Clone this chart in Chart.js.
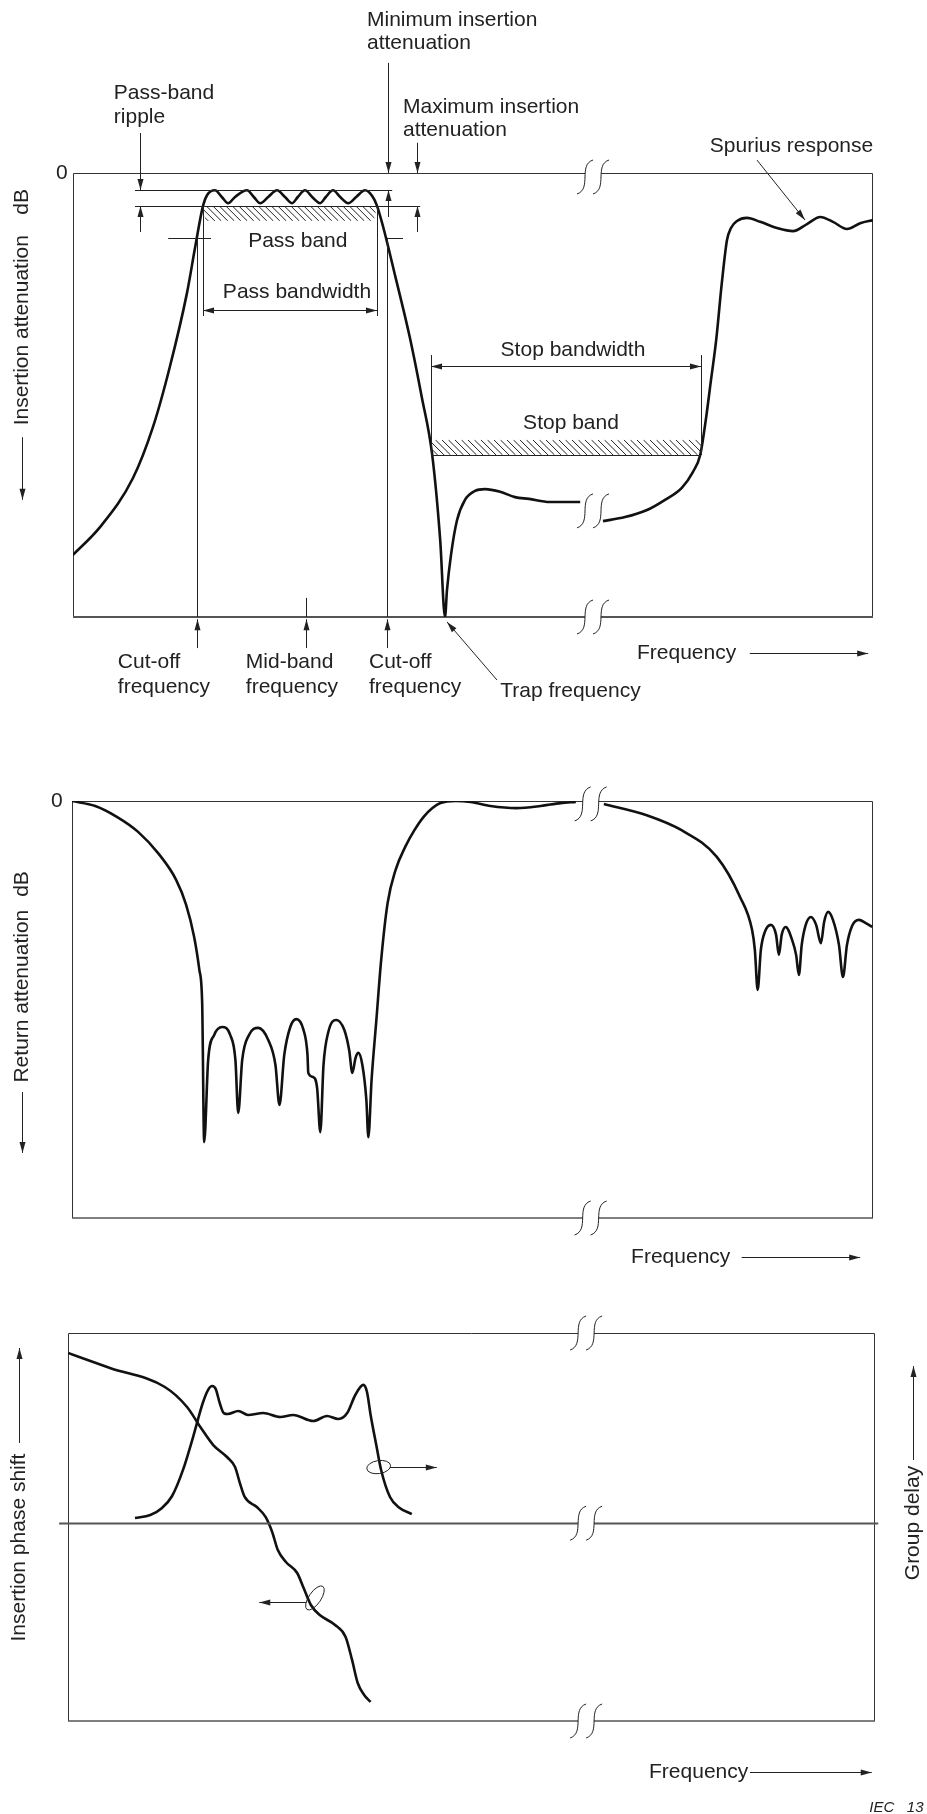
<!DOCTYPE html>
<html>
<head>
<meta charset="utf-8">
<script src="https://cdn.jsdelivr.net/npm/chart.js@4.4.1/dist/chart.umd.min.js"></script>
<style>
  body { margin: 0; background: #fff; }
  #wrap { position: relative; width: 927px; height: 1814px; }
  canvas { position: absolute; left: 0; }
</style>
</head>
<body>
<div id="wrap">
  <canvas id="plot1" width="927" height="760" style="top:0"></canvas>
  <canvas id="plot2" width="927" height="540" style="top:760px"></canvas>
  <canvas id="plot3" width="927" height="514" style="top:1300px"></canvas>
</div>
<script>
// Insertion attenuation (relative frequency 0-100, attenuation 0 at top, 100 at bottom)
const freqIns1 = [0, 3.4, 7.5, 10, 12.1, 14.25, 15.25, 16.25, 16.75, 17.75, 18.6, 19.4, 20.25, 21.75, 22.6, 23.4, 24.4, 25.5, 26.5, 27.4, 28.1, 29, 29.9, 30.9, 31.6, 32.5, 33.4, 34.4, 35.4, 36.5, 37.4, 38, 38.75, 40.25, 42.1, 43.6, 44.9, 45.9, 46.5, 46.75, 47.25, 48, 49, 50.25, 51.5, 53.4, 55.25, 57, 59.6, 63.4];
const attIns1  = [86.0, 79.7, 68.7, 57.2, 43.7, 27.0, 16.9, 7.4, 5.0, 3.9, 5.4, 6.8, 5.4, 3.9, 5.4, 6.8, 5.4, 3.9, 5.4, 6.8, 5.4, 3.9, 5.4, 6.8, 5.4, 3.9, 5.4, 6.8, 5.4, 3.9, 5.2, 7.4, 12.0, 23.0, 37.0, 50.5, 63.5, 82.7, 100, 93.9, 86.0, 78.2, 73.6, 71.6, 71.2, 71.8, 73.0, 73.4, 74.1, 74.1];
const freqIns2 = [66.25, 69, 71.75, 74, 76.1, 77.5, 78.4, 79.1, 79.75, 80.4, 81.1, 81.75, 82.25, 83, 84.25, 85.9, 88, 90, 91.75, 93.4, 95, 96.75, 98.4, 100];
const attIns2  = [78.4, 77.5, 75.9, 73.6, 70.9, 67.3, 63.5, 55.6, 46.6, 37.6, 24.8, 15.1, 12.4, 10.8, 10.1, 11.0, 12.4, 13.1, 11.5, 9.9, 11.0, 12.6, 11.3, 10.6];

// Return attenuation
const freqRet1 = [0, 2.9, 5.6, 8.25, 10.75, 13, 14.25, 15.25, 15.9, 16.25, 16.5, 17, 17.75, 18.75, 19.75, 20.4, 20.75, 21.25, 22.1, 23.25, 24.5, 25.4, 25.9, 26.5, 27.25, 28, 28.9, 29.4, 29.5, 30.1, 30.6, 31, 31.4, 32, 33, 34, 34.6, 35, 35.4, 35.75, 36.25, 36.75, 37, 37.4, 38, 38.6, 39.4, 40.4, 41.6, 42.75, 43.9, 45, 46, 47.9, 49.75, 52.25, 55.5, 58.5, 61, 62.9];
const attRet1  = [0, 1.2, 3.8, 7.4, 12.5, 18.9, 24.9, 32.6, 40.5, 48.4, 81.8, 62.1, 56.1, 54.2, 56.1, 62.1, 74.8, 62.1, 56.1, 54.4, 57.3, 63.3, 72.9, 60.9, 54.2, 52.3, 54.9, 60.9, 65.2, 66.2, 68.8, 79.4, 63.3, 55.4, 52.5, 54.9, 59.7, 65.2, 61.6, 60.4, 63.3, 71.7, 80.6, 66.9, 52.5, 38.1, 24.5, 16.5, 11.0, 7.0, 3.8, 1.7, 0.5, 0, 0.24, 1.2, 1.7, 1.2, 0.5, 0.24];
const freqRet2 = [66.4, 71.75, 76.1, 80.5, 83.4, 84.9, 85.25, 85.6, 86, 86.5, 87.25, 87.9, 88.25, 88.6, 89.1, 89.9, 90.4, 90.75, 91.1, 91.6, 92.25, 92.9, 93.5, 93.9, 94.4, 95, 95.75, 96.25, 96.75, 97.4, 98.25, 99.1, 99.9];
const attRet2  = [0.7, 3.4, 7.0, 13.4, 23.0, 30.9, 35.7, 45.3, 35.7, 31.4, 29.7, 32.1, 36.9, 32.1, 30.2, 33.3, 36.9, 41.7, 34.5, 29.7, 27.8, 29.7, 34.1, 29.0, 26.6, 28.5, 34.5, 42.2, 34.5, 29.9, 28.5, 29.3, 30.2];

// Insertion phase shift and group delay (0 on the middle axis)
const freqPhase  = [0, 5.2, 12.0, 14.75, 16.4, 18.0, 19.7, 20.7, 21.3, 21.9, 23.4, 24.5, 25.3, 26.0, 27.0, 28.4, 29.2, 30.1, 31.2, 33.1, 34.4, 35.2, 35.9, 36.7, 37.5];
const phaseShift = [89.5, 81.6, 71.6, 61.1, 50.6, 41.1, 34.8, 29.5, 21.1, 13.8, 8.5, 3.2, -4.6, -14.1, -20.4, -26.2, -34.1, -43.0, -48.3, -53.5, -59.8, -71.9, -84.0, -90.3, -94.0];
const freqDelay  = [8.3, 10.2, 11.65, 12.9, 14.25, 15.5, 16.7, 17.35, 17.85, 18.3, 18.8, 19.3, 19.8, 21.1, 22.3, 24.2, 26.3, 27.9, 30.4, 32.1, 33.5, 34.6, 35.6, 36.6, 37.05, 37.5, 38.2, 38.8, 39.9, 41.1, 42.6];
const groupDelay = [2.7, 4.3, 8.0, 14.3, 28.0, 45.3, 63.2, 70.0, 72.1, 70.6, 63.2, 57.9, 57.4, 59.0, 56.9, 57.9, 55.8, 56.9, 53.7, 56.4, 54.8, 57.9, 67.4, 72.7, 69.0, 56.9, 41.1, 28.0, 13.8, 8.0, 4.8];

const FONT = '21px "Liberation Sans", Arial, sans-serif';
const INK = '#222';

let toPoints = (xs, ys) => xs.map((x, i) => ({x: x, y: ys[i]}));

let curve = (xs, ys) => ({
  data: toPoints(xs, ys),
  borderColor: '#111',
  borderWidth: 2.6,
  pointRadius: 0,
  fill: false,
  cubicInterpolationMode: 'monotone'
});

let arrowHead = (ctx, x1, y1, x2, y2) => {
  let a = Math.atan2(y2 - y1, x2 - x1), L = 11, W = 3;
  ctx.beginPath();
  ctx.moveTo(x2, y2);
  ctx.lineTo(x2 - L * Math.cos(a) + W * Math.sin(a), y2 - L * Math.sin(a) - W * Math.cos(a));
  ctx.lineTo(x2 - L * Math.cos(a) - W * Math.sin(a), y2 - L * Math.sin(a) + W * Math.cos(a));
  ctx.closePath();
  ctx.fill();
};

// two slanted S strokes, white between them
let breakMark = (ctx, cx, cy) => {
  let s = (x0) => [x0, cy + 17, x0 + 15, cy + 12, x0 + 1, cy - 12, x0 + 16, cy - 17];
  let a = s(cx - 16), b = s(cx);
  ctx.beginPath();
  ctx.moveTo(a[0], a[1]);
  ctx.bezierCurveTo(a[2], a[3], a[4], a[5], a[6], a[7]);
  ctx.lineTo(b[6], b[7]);
  ctx.bezierCurveTo(b[4], b[5], b[2], b[3], b[0], b[1]);
  ctx.closePath();
  ctx.fillStyle = '#fff';
  ctx.fill();
  for (let p of [a, b]) {
    ctx.beginPath();
    ctx.moveTo(p[0], p[1]);
    ctx.bezierCurveTo(p[2], p[3], p[4], p[5], p[6], p[7]);
    ctx.stroke();
  }
  ctx.fillStyle = INK;
};

const sketchPlugin = {
  id: 'sketch',
  beforeDatasetsDraw(chart, args, opts) {
    let {ctx, chartArea: a} = chart;
    ctx.save();
    ctx.strokeStyle = '#333';
    ctx.lineWidth = 1;
    ctx.beginPath();
    ctx.moveTo(a.left + 0.5, a.bottom);
    ctx.lineTo(a.left + 0.5, a.top + 0.5);
    ctx.lineTo(a.right - 0.5, a.top + 0.5);
    ctx.lineTo(a.right - 0.5, a.bottom);
    ctx.stroke();
    ctx.strokeStyle = '#555';
    ctx.lineWidth = opts.bottomWidth || 1;
    ctx.beginPath();
    ctx.moveTo(a.left, a.bottom);
    ctx.lineTo(a.right, a.bottom);
    ctx.stroke();
    ctx.restore();
  },
  afterDatasetsDraw(chart, args, opts) {
    let ctx = chart.ctx;
    let X = (v) => chart.scales.x.getPixelForValue(v);
    let Y = (v) => chart.scales.y.getPixelForValue(v);
    ctx.save();
    ctx.strokeStyle = INK;
    ctx.fillStyle = INK;
    ctx.lineWidth = 1;
    ctx.font = FONT;
    ctx.textBaseline = 'middle';
    for (let it of (opts.items || [])) {
      let k = it[0];
      if (k === 'line' || k === 'arrow' || k === 'arrow2') {
        let x1 = X(it[1]), y1 = Y(it[2]), x2 = X(it[3]), y2 = Y(it[4]);
        if (x1 === x2) { x1 = x2 = Math.round(x1) + 0.5; }
        if (y1 === y2) { y1 = y2 = Math.round(y1) + 0.5; }
        ctx.save();
        if (it[5]) ctx.lineWidth = it[5];
        if (it[6]) ctx.strokeStyle = it[6];
        ctx.beginPath();
        ctx.moveTo(x1, y1);
        ctx.lineTo(x2, y2);
        ctx.stroke();
        ctx.restore();
        if (k !== 'line') arrowHead(ctx, x1, y1, x2, y2);
        if (k === 'arrow2') arrowHead(ctx, x2, y2, x1, y1);
      } else if (k === 'text') {
        ctx.save();
        if (it[5]) ctx.font = it[5];
        ctx.textAlign = it[4] || 'left';
        ctx.fillText(it[3], X(it[1]), Y(it[2]));
        ctx.restore();
      } else if (k === 'vtext') {
        ctx.save();
        ctx.translate(X(it[1]), Y(it[2]));
        ctx.rotate(-Math.PI / 2);
        ctx.textAlign = 'center';
        ctx.fillText(it[3], 0, 0);
        ctx.restore();
      } else if (k === 'hatch') {
        let pts = it[1].map(p => [X(p[0]), Y(p[1])]);
        let xs = pts.map(p => p[0]), ys = pts.map(p => p[1]);
        let top = Math.min(...ys), bot = Math.max(...ys), h = bot - top;
        ctx.save();
        ctx.beginPath();
        pts.forEach((p, i) => i ? ctx.lineTo(p[0], p[1]) : ctx.moveTo(p[0], p[1]));
        ctx.closePath();
        ctx.clip();
        ctx.beginPath();
        for (let x = Math.min(...xs) - h; x < Math.max(...xs); x += 6.5) {
          ctx.moveTo(x, top);
          ctx.lineTo(x + h, bot);
        }
        ctx.stroke();
        ctx.restore();
      } else if (k === 'brk') {
        breakMark(ctx, X(it[1]), Y(it[2]));
      } else if (k === 'ellipse') {
        ctx.beginPath();
        ctx.ellipse(X(it[1]), Y(it[2]), it[3], it[4], it[5], 0, Math.PI * 2);
        ctx.stroke();
      }
    }
    ctx.restore();
  }
};

Chart.register(sketchPlugin);

let baseOptions = (padding, yMin, yMax, reverse, sketch) => ({
  responsive: false,
  animation: false,
  layout: {padding: padding},
  scales: {
    x: {type: 'linear', min: 0, max: 100, display: false},
    y: {type: 'linear', min: yMin, max: yMax, reverse: reverse, display: false}
  },
  plugins: {legend: {display: false}, tooltip: {enabled: false}, sketch: sketch}
});

// Panel 1: insertion attenuation
new Chart(document.getElementById('plot1'), {
  type: 'line',
  data: {datasets: [curve(freqIns1, attIns1), curve(freqIns2, attIns2)]},
  options: baseOptions({left: 73, top: 173, right: 54, bottom: 143}, 0, 100, true, {
    bottomWidth: 2,
    items: [
      ['line', 7.75, 3.83, 39.9, 3.83],
      ['line', 7.75, 7.43, 43.4, 7.43],
      ['arrow', 8.4, -9.0, 8.4, 3.83],
      ['arrow', 8.4, 13.3, 8.4, 7.43],
      ['arrow', 39.4, -24.8, 39.4, 0],
      ['arrow', 39.4, 9.9, 39.4, 3.83],
      ['arrow', 43, -6.8, 43, 0],
      ['arrow', 43, 13.3, 43, 7.43],
      ['hatch', [[16.1, 7.43], [38, 7.43], [37.6, 10.8], [16.6, 10.8]]],
      ['line', 11.9, 14.6, 17.25, 14.6],
      ['line', 39.25, 14.6, 41.25, 14.6],
      ['line', 15.5, 14.6, 15.5, 100],
      ['line', 39.25, 14.6, 39.25, 100],
      ['line', 16.25, 7.43, 16.25, 32.2],
      ['line', 38, 7.43, 38, 32.2],
      ['arrow2', 16.25, 30.9, 38, 30.9],
      ['text', 28.1, 15.3, 'Pass band', 'center'],
      ['text', 28, 26.8, 'Pass bandwidth', 'center'],
      ['line', 44.75, 41, 44.75, 63.5],
      ['line', 78.5, 41, 78.5, 63.5],
      ['arrow2', 44.75, 43.5, 78.5, 43.5],
      ['text', 62.5, 39.9, 'Stop bandwidth', 'center'],
      ['text', 62.25, 56.3, 'Stop band', 'center'],
      ['hatch', [[44.75, 60.1], [78.5, 60.1], [78.5, 63.5], [44.75, 63.5]]],
      ['line', 44.75, 63.5, 78.5, 63.5],
      ['line', 29.1, 95.7, 29.1, 100],
      ['arrow', 15.5, 107, 15.5, 100.5],
      ['arrow', 29.1, 107, 29.1, 100.5],
      ['arrow', 39.25, 107, 39.25, 100.5],
      ['text', 5.6, 110.1, 'Cut-off'],
      ['text', 5.6, 115.8, 'frequency'],
      ['text', 21.6, 110.1, 'Mid-band'],
      ['text', 21.6, 115.8, 'frequency'],
      ['text', 37, 110.1, 'Cut-off'],
      ['text', 37, 115.8, 'frequency'],
      ['text', 53.4, 116.7, 'Trap frequency'],
      ['arrow', 53, 114.2, 46.75, 101.1],
      ['text', 70.5, 108.1, 'Frequency'],
      ['arrow', 84.6, 108.1, 99.4, 108.1],
      ['text', 36.75, -34.5, 'Minimum insertion'],
      ['text', 36.75, -29.3, 'attenuation'],
      ['text', 5.1, -18.0, 'Pass-band'],
      ['text', 5.1, -12.6, 'ripple'],
      ['text', 41.25, -14.9, 'Maximum insertion'],
      ['text', 41.25, -9.7, 'attenuation'],
      ['text', 79.6, -6.1, 'Spurius response'],
      ['arrow', 85.5, -2.9, 91.5, 10.6],
      ['text', -1.4, 0, '0', 'center'],
      ['vtext', -6.4, 35.4, 'Insertion attenuation'],
      ['vtext', -6.4, 6.5, 'dB'],
      ['arrow', -6.4, 59.5, -6.4, 73.6],
      ['brk', 65, 0.9],
      ['brk', 65, 76.1],
      ['brk', 65, 100]
    ]
  })
});

// Panel 2: return attenuation
new Chart(document.getElementById('plot2'), {
  type: 'line',
  data: {datasets: [curve(freqRet1, attRet1), curve(freqRet2, attRet2)]},
  options: baseOptions({left: 72, top: 41, right: 54, bottom: 82}, 0, 100, true, {
    bottomWidth: 1.5,
    items: [
      ['text', -1.9, 0, '0', 'center'],
      ['vtext', -6.25, 46.8, 'Return attenuation'],
      ['vtext', -6.25, 19.9, 'dB'],
      ['arrow', -6.25, 69.8, -6.25, 84.4],
      ['text', 69.8, 109.4, 'Frequency'],
      ['arrow', 83.6, 109.4, 98.4, 109.4],
      ['brk', 64.75, 0.7],
      ['brk', 64.75, 100]
    ]
  })
});

// Panel 3: insertion phase shift (left) and group delay (right)
new Chart(document.getElementById('plot3'), {
  type: 'line',
  data: {datasets: [curve(freqPhase, phaseShift), curve(freqDelay, groupDelay)]},
  options: baseOptions({left: 68, top: 33, right: 52, bottom: 93}, -104, 100, false, {
    bottomWidth: 1.5,
    items: [
      ['line', -1.1, 0, 100.4, 0, 1.8, '#555'],
      ['brk', 64.2, 100],
      ['brk', 64.2, 0],
      ['brk', 64.2, -104],
      ['ellipse', 38.5, 29.5, 12, 6.5, -0.15],
      ['arrow', 39.9, 29.5, 45.7, 29.5],
      ['ellipse', 30.6, -39.3, 6, 14, 0.6],
      ['arrow', 29.5, -41.4, 23.7, -41.4],
      ['vtext', -6.07, -12.8, 'Insertion phase shift'],
      ['arrow', -6.07, 42.2, -6.07, 92.1],
      ['vtext', 104.7, 0.1, 'Group delay'],
      ['arrow', 104.7, 33.2, 104.7, 82.6],
      ['text', 72.0, -130.8, 'Frequency'],
      ['arrow', 84.5, -130.8, 99.6, -130.8],
      ['text', 99.3, -149.7, 'IEC   13', 'left', 'italic 15px "Liberation Sans", Arial, sans-serif']
    ]
  })
});
</script>
</body>
</html>
